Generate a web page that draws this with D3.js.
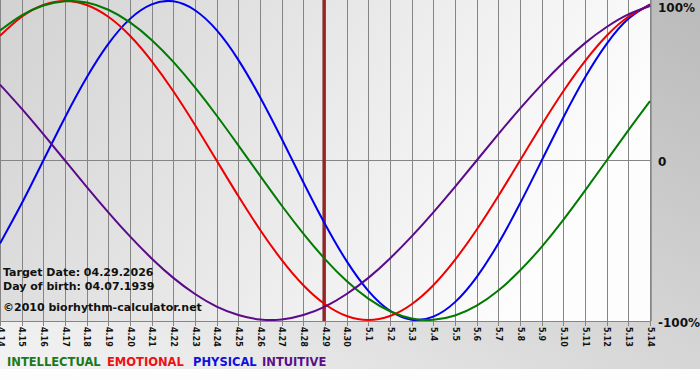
<!DOCTYPE html>
<html>
<head>
<meta charset="utf-8">
<script src="https://cdn.jsdelivr.net/npm/d3@7/dist/d3.min.js"></script>
<style>
html,body{margin:0;padding:0;background:#fff;}
svg{display:block;}
text{font-family:"DejaVu Sans",Verdana,sans-serif;}
</style>
</head>
<body>
<svg id="chart" width="700" height="380"></svg>
<script>
const dates = ["4.14","4.15","4.16","4.17","4.18","4.19","4.20","4.21","4.22","4.23","4.24","4.25","4.26","4.27","4.28","4.29","4.30","5.1","5.2","5.3","5.4","5.5","5.6","5.7","5.8","5.9","5.10","5.11","5.12","5.13","5.14"];
const physical = [-0.520,-0.270,0,0.270,0.520,0.731,0.888,0.979,0.998,0.942,0.817,0.631,0.398,0.136,-0.136,-0.398,-0.631,-0.817,-0.942,-0.998,-0.979,-0.888,-0.731,-0.520,-0.270,0,0.270,0.520,0.731,0.888,0.979];
const emotional = [0.782,0.901,0.975,1.000,0.975,0.901,0.782,0.623,0.434,0.223,0,-0.223,-0.434,-0.623,-0.782,-0.901,-0.975,-1.000,-0.975,-0.901,-0.782,-0.623,-0.434,-0.223,0,0.223,0.434,0.623,0.782,0.901,0.975];
const intellectual = [0.815,0.910,0.972,0.999,0.990,0.945,0.866,0.756,0.618,0.458,0.282,0.095,-0.095,-0.282,-0.458,-0.618,-0.756,-0.866,-0.945,-0.990,-0.999,-0.972,-0.910,-0.815,-0.690,-0.541,-0.372,-0.189,0,0.189,0.372];
const intuitive = [0.476,0.325,0.165,0,-0.165,-0.325,-0.476,-0.614,-0.736,-0.837,-0.916,-0.969,-0.997,-0.997,-0.969,-0.916,-0.837,-0.736,-0.614,-0.476,-0.325,-0.165,0,0.165,0.325,0.476,0.614,0.736,0.837,0.916,0.969];
const yTickLabels = ["100%","0","-100%"];
const yTickValues = [1,0,-1];
const targetIndex = 15;
const infoLines = ["Target Date: 04.29.2026","Day of birth: 04.07.1939","\u00a92010 biorhythm-calculator.net"];
const legendNames = ["INTELLECTUAL","EMOTIONAL","PHYSICAL","INTUITIVE"];

const svg = d3.select("#chart");
const W = 700, H = 380;
const plot = {left:0, top:0, right:651, bottom:321};

const defs = svg.append("defs");
const bg = defs.append("linearGradient").attr("id","bg").attr("x1","0").attr("y1","1").attr("x2","1").attr("y2","0");
bg.append("stop").attr("offset","0").attr("stop-color","#f4f4f4");
bg.append("stop").attr("offset","1").attr("stop-color","#bababa");
const pg = defs.append("linearGradient").attr("id","pg").attr("x1","0").attr("y1","0").attr("x2","1").attr("y2","0.3");
pg.append("stop").attr("offset","0").attr("stop-color","#d2d2d2");
pg.append("stop").attr("offset","1").attr("stop-color","#fdfdfd");
defs.append("clipPath").attr("id","clip").append("rect")
  .attr("x",plot.left).attr("y",plot.top).attr("width",plot.right-plot.left).attr("height",plot.bottom-plot.top);

svg.append("rect").attr("width",W).attr("height",H).attr("fill","url(#bg)");
svg.append("rect").attr("x",0).attr("y",369).attr("width",W).attr("height",H-369).attr("fill","#fdfdfd");
svg.append("rect").attr("x",plot.left).attr("y",plot.top).attr("width",plot.right-plot.left).attr("height",plot.bottom-plot.top).attr("fill","url(#pg)");

const x = d3.scaleLinear().domain([0, dates.length-1]).range([0, 650]);
const y = d3.scaleLinear().domain([-1,1]).range([320, 1]);

// vertical grid + ticks
const xAxis = d3.axisBottom(x).tickValues(d3.range(dates.length)).tickFormat(i => dates[i]).tickSize(plot.bottom+5).tickSizeOuter(0);
const gx = svg.append("g").call(xAxis);
gx.select(".domain").remove();
gx.selectAll(".tick line").attr("stroke","#858585").attr("shape-rendering","crispEdges");
gx.selectAll(".tick text")
  .attr("transform","rotate(90)")
  .attr("x", plot.bottom+6).attr("y",0).attr("dy","0.35em")
  .attr("text-anchor","start")
  .attr("font-size","8px").attr("font-weight","bold").attr("fill","#111");

// horizontal zero line and bottom / right border
svg.append("line").attr("x1",plot.left).attr("x2",plot.right).attr("y1",y(0)).attr("y2",y(0))
  .attr("stroke","#858585").attr("shape-rendering","crispEdges");
svg.append("line").attr("x1",plot.left).attr("x2",plot.right).attr("y1",plot.bottom+0.5).attr("y2",plot.bottom+0.5)
  .attr("stroke","#858585");
svg.append("line").attr("x1",plot.right+0.5).attr("x2",plot.right+0.5).attr("y1",0).attr("y2",plot.bottom)
  .attr("stroke","#9a9a9a");

// right labels
svg.append("g").selectAll("text").data(yTickValues).join("text")
  .attr("x",658).attr("y",d => d===1 ? 11.5 : (d===0 ? 166 : 326.5))
  .attr("font-size","12px").attr("font-weight","bold").attr("fill","#111")
  .text((d,i) => yTickLabels[i]);

// cursor
svg.append("line").attr("x1",x(targetIndex)-1).attr("x2",x(targetIndex)-1).attr("y1",0).attr("y2",plot.bottom)
  .attr("stroke","#6e1010").attr("stroke-width",3);
svg.append("line").attr("x1",x(targetIndex)-1).attr("x2",x(targetIndex)-1).attr("y1",0).attr("y2",plot.bottom)
  .attr("stroke","#c83535").attr("stroke-width",1);

// info text
svg.append("g").selectAll("text").data(infoLines).join("text")
  .attr("x",3).attr("y",(d,i)=>[276,290,311][i])
  .attr("font-size","11px").attr("font-weight","bold").attr("fill","#111")
  .text(d=>d);

// curves
const line = d3.line().x((d,i)=>x(i)).y(d=>y(d)).curve(d3.curveNatural);
const series = [
  {v:physical, c:"#0000ee"},
  {v:emotional, c:"#ee0000"},
  {v:intellectual, c:"#007a00"},
  {v:intuitive, c:"#5a0a8a"}
];
const gc = svg.append("g").attr("clip-path","url(#clip)");
gc.selectAll("path").data(series).join("path")
  .attr("d",d=>line(d.v)).attr("fill","none").attr("stroke",d=>d.c).attr("stroke-width",2);

// legend
const legendColors = ["#1a7a1a","#ee1111","#1010dd","#5a0f8a"];
const legendX = [7,107,193,262];
svg.append("g").selectAll("text").data(legendNames).join("text")
  .attr("x",(d,i)=>legendX[i]).attr("y",365.5)
  .attr("font-size","11.5px").attr("font-weight","bold")
  .attr("fill",(d,i)=>legendColors[i]).text(d=>d);
</script>
</body>
</html>
